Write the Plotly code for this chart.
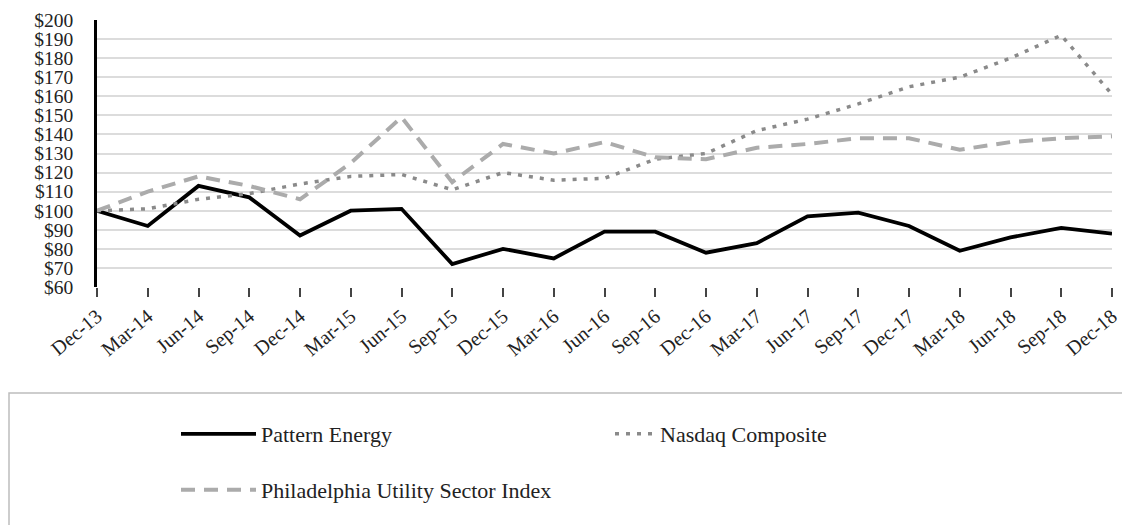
import plotly.graph_objects as go

quarters = ["Dec-13", "Mar-14", "Jun-14", "Sep-14", "Dec-14", "Mar-15", "Jun-15",
            "Sep-15", "Dec-15", "Mar-16", "Jun-16", "Sep-16", "Dec-16", "Mar-17",
            "Jun-17", "Sep-17", "Dec-17", "Mar-18", "Jun-18", "Sep-18", "Dec-18"]

pattern_energy = [100, 92, 113, 107, 87, 100, 101, 72, 80, 75, 89, 89, 78, 83,
                  97, 99, 92, 79, 86, 91, 88]
nasdaq = [100, 101, 106, 109, 114, 118, 119, 111, 120, 116, 117, 127, 130, 142,
          148, 156, 165, 170, 180, 192, 161]
phlx_utility = [100, 110, 118, 113, 106, 125, 149, 115, 135, 130, 136, 128, 127, 133,
                135, 138, 138, 132, 136, 138, 139]

y_ticks = list(range(60, 201, 10))
y_tick_labels = [f"${v}" for v in y_ticks]

x_idx = list(range(len(quarters)))
SERIF = "Liberation Serif, Times New Roman, serif"
TXT = "#222222"

fig = go.Figure()
fig.add_trace(go.Scatter(x=x_idx, y=pattern_energy, mode="lines", name="Pattern Energy",
                         line=dict(color="#000000", width=3.8), legend="legend",
                         showlegend=True))
fig.add_trace(go.Scatter(x=x_idx, y=nasdaq, mode="lines", name="Nasdaq Composite",
                         line=dict(color="#8a8a8a", width=3.5, dash="4px,7px"), legend="legend2"))
fig.add_trace(go.Scatter(x=x_idx, y=phlx_utility, mode="lines",
                         name="Philadelphia Utility Sector Index",
                         line=dict(color="#ababab", width=4, dash="14px,9px"), legend="legend3"))

# page is shown with an 8px body margin; work in page pixels and shift
OFF = 8
W, H = 1130 - OFF, 525 - OFF
L, R, T, B = 97 - OFF, 18, 20 - OFF, 525 - 287
pw = W - L - R
ph = H - T - B

def px_x(p):
    return (p - OFF - L) / pw

def px_y(p):
    return (H - B - (p - OFF)) / ph

leg_font = dict(family=SERIF, size=22, color=TXT)

def leg(xpx, ypx, iw):
    return dict(orientation="h", x=px_x(xpx), y=px_y(ypx), xanchor="left", yanchor="middle",
                itemwidth=iw, font=leg_font, bgcolor="rgba(0,0,0,0)", borderwidth=0,
                visible=True)

fig.update_layout(
    width=W, height=H,
    showlegend=True,
    margin=dict(l=L, r=R, t=T, b=B, autoexpand=False),
    paper_bgcolor="white", plot_bgcolor="white",
    font=dict(family=SERIF, color=TXT, size=18),
    xaxis=dict(
        range=[0, 20], tickvals=x_idx, ticktext=quarters, tickangle=-40,
        ticks="outside", ticklen=9, tickwidth=1.5, tickcolor="#444444",
        showgrid=False, zeroline=False, showline=False, automargin=False,
        tickfont=dict(family=SERIF, size=20, color=TXT),
    ),
    yaxis=dict(
        range=[60, 200], tickvals=y_ticks, ticktext=y_tick_labels,
        showgrid=True, gridcolor="#dcdcdc", gridwidth=1.5, automargin=False,
        zeroline=False, showline=True, linecolor="#000000", linewidth=2.5,
        ticks="", ticklabelstandoff=17, tickfont=dict(family=SERIF, size=19.5, color=TXT),
    ),
    legend=leg(176, 434, 75),
    legend2=leg(610, 434, 40),
    legend3=leg(176, 490, 75),
    shapes=[dict(type="rect", xref="paper", yref="paper",
                 x0=px_x(9), x1=px_x(1140), y0=px_y(393), y1=px_y(540),
                 line=dict(color="#bdbdbd", width=1.5), fillcolor="rgba(0,0,0,0)",
                 layer="below")],
)

fig.write_html("out.html")
